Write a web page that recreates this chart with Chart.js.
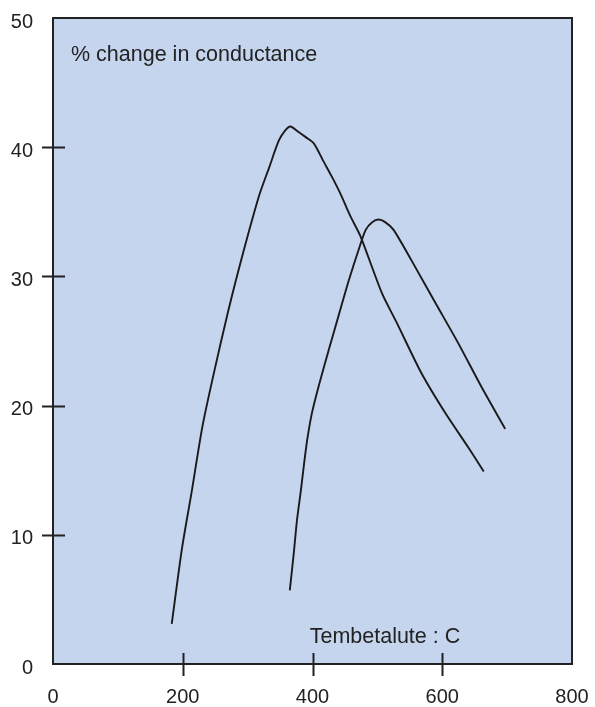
<!DOCTYPE html>
<html lang="en">
<head>
    <meta charset="UTF-8">
    <title>% change in conductance</title>
    <script src="https://cdn.jsdelivr.net/npm/chart.js"></script>
    <style>
        html, body {
            margin: 0;
            padding: 0;
            background: #ffffff;
        }
        .chart-box {
            width: 595px;
            height: 707px;
        }
    </style>
</head>
<body>
    <div class="chart-box">
        <canvas id="conductanceChart"></canvas>
    </div>
    <script>
        // Curve 1 (peak near 370 C)
        const curve1Temp = [183, 199, 214, 230, 247, 270, 294, 318, 333, 348, 358, 366, 378, 389, 402, 417, 430, 443, 458, 474, 507, 530, 568, 605, 641, 664];
        const curve1Change = [3.1, 9.0, 13.4, 18.3, 22.3, 27.3, 32.0, 36.3, 38.4, 40.5, 41.3, 41.6, 41.2, 40.8, 40.3, 38.9, 37.7, 36.4, 34.7, 33.1, 28.7, 26.4, 22.5, 19.4, 16.7, 14.9];

        // Curve 2 (peak near 500 C)
        const curve2Temp = [365, 371, 376, 382, 387, 392, 399, 410, 425, 441, 456, 472, 482, 492, 502, 512, 525, 553, 590, 625, 661, 697];
        const curve2Change = [5.7, 8.5, 11.1, 13.4, 15.5, 17.4, 19.4, 21.6, 24.3, 27.1, 29.7, 32.2, 33.6, 34.2, 34.4, 34.2, 33.6, 31.2, 27.9, 24.8, 21.4, 18.2];

        // Axis ticks
        const xTickValues = [0, 200, 400, 600, 800];
        const yTickValues = [0, 10, 20, 30, 40, 50];

        const innerLabel = '% change in conductance';
        const axisNote = 'Tembetalute : C';

        const inkColor = '#222222';
        const plotFill = '#c6d5ee';
        const fontFamily = '"Liberation Sans", Arial, Helvetica, sans-serif';

        function toPoints(xs, ys) {
            return xs.map((x, i) => ({ x: x, y: ys[i] }));
        }

        // Fixed axis sizes so the plot box sits where the original one is
        function fixAxis(size) {
            return axis => {
                if (axis.isHorizontal()) {
                    axis.height = size;
                } else {
                    axis.width = size;
                }
                axis.paddingTop = 0;
                axis.paddingBottom = 0;
                axis.paddingLeft = 0;
                axis.paddingRight = 0;
            };
        }

        // Fill, frame, crossing tick marks and the two labels inside the plot
        const framePlugin = {
            id: 'frame',
            beforeDatasetsDraw(chart) {
                const { ctx, chartArea } = chart;
                ctx.save();
                ctx.fillStyle = plotFill;
                ctx.fillRect(chartArea.left, chartArea.top, chartArea.right - chartArea.left, chartArea.bottom - chartArea.top);

                ctx.fillStyle = inkColor;
                ctx.font = '21.5px ' + fontFamily;
                ctx.textBaseline = 'alphabetic';
                ctx.textAlign = 'left';
                ctx.fillText(innerLabel, chartArea.left + 18, chartArea.top + 43);
                ctx.textAlign = 'right';
                ctx.fillText(axisNote, chart.scales.x.getPixelForValue(600) + 18, chartArea.bottom - 21);
                ctx.restore();
            },
            afterDatasetsDraw(chart) {
                const { ctx, chartArea } = chart;
                const xScale = chart.scales.x;
                const yScale = chart.scales.y;
                ctx.save();
                ctx.strokeStyle = inkColor;
                ctx.lineWidth = 2;
                ctx.strokeRect(chartArea.left, chartArea.top, chartArea.right - chartArea.left, chartArea.bottom - chartArea.top);

                ctx.beginPath();
                xTickValues.slice(1, -1).forEach(v => {
                    const px = Math.round(xScale.getPixelForValue(v)) + 0.5;
                    ctx.moveTo(px, chartArea.bottom - 11);
                    ctx.lineTo(px, chartArea.bottom + 12);
                });
                yTickValues.slice(1, -1).forEach(v => {
                    const py = Math.round(yScale.getPixelForValue(v)) + 0.5;
                    ctx.moveTo(chartArea.left - 11, py);
                    ctx.lineTo(chartArea.left + 12, py);
                });
                ctx.stroke();
                ctx.restore();
            }
        };

        function drawChart() {
            const ctx = document.getElementById('conductanceChart').getContext('2d');

            const lineStyle = {
                showLine: true,
                fill: false,
                borderColor: '#1a1a1a',
                borderWidth: 1.9,
                pointRadius: 0,
                tension: 0.25
            };

            new Chart(ctx, {
                type: 'scatter',
                data: {
                    datasets: [
                        Object.assign({ label: 'curve 1', data: toPoints(curve1Temp, curve1Change) }, lineStyle),
                        Object.assign({ label: 'curve 2', data: toPoints(curve2Temp, curve2Change) }, lineStyle)
                    ]
                },
                options: {
                    responsive: false,
                    animation: false,
                    layout: {
                        padding: { left: 10, right: 23, top: 18, bottom: 0 }
                    },
                    plugins: {
                        legend: { display: false },
                        tooltip: { enabled: false }
                    },
                    scales: {
                        x: {
                            type: 'linear',
                            min: 0,
                            max: 800,
                            afterBuildTicks: axis => { axis.ticks = xTickValues.map(v => ({ value: v })); },
                            afterFit: fixAxis(43),
                            grid: { display: false, drawTicks: false },
                            border: { display: false },
                            ticks: {
                                color: inkColor,
                                padding: 21,
                                font: { family: fontFamily, size: 20 }
                            }
                        },
                        y: {
                            type: 'linear',
                            min: 0,
                            max: 50,
                            afterBuildTicks: axis => { axis.ticks = yTickValues.map(v => ({ value: v })); },
                            afterFit: fixAxis(43),
                            grid: { display: false, drawTicks: false },
                            border: { display: false },
                            ticks: {
                                color: inkColor,
                                padding: 20,
                                labelOffset: 4,
                                font: { family: fontFamily, size: 20 }
                            }
                        }
                    }
                },
                plugins: [framePlugin]
            });
        }

        const canvas = document.getElementById('conductanceChart');
        canvas.width = 595;
        canvas.height = 707;
        drawChart();
    </script>
</body>
</html>
